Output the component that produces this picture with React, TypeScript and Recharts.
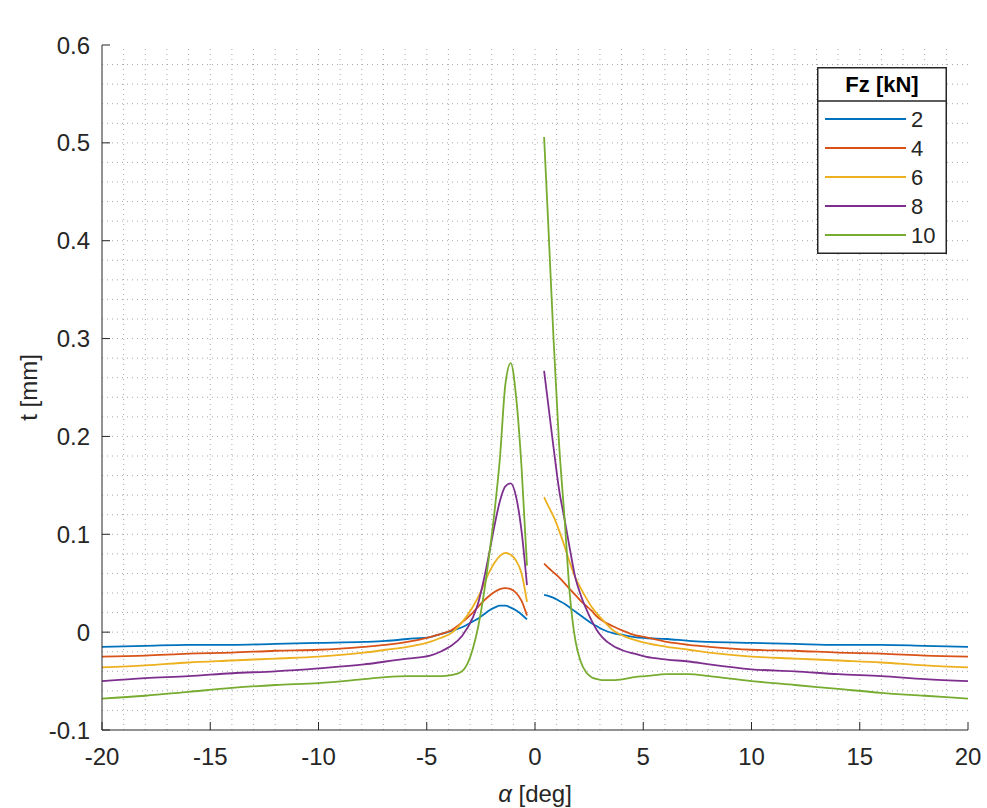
import React from "react";
import { LineChart, Line, XAxis, YAxis, ReferenceLine, Legend } from "recharts";

// sideslip angle samples [deg] (left branch / right branch)
const alphaLeft = [-20, -18, -16, -14, -12, -10, -7.9, -6.9, -5.9, -4.85, -4.37, -3.87, -3.37, -2.87, -2.62, -2.37, -2.12, -1.87, -1.62, -1.37, -1.12, -0.87, -0.62, -0.37];
const alphaRight = [0.42, 0.61, 0.86, 1.11, 1.36, 1.61, 1.86, 2.11, 2.36, 2.61, 2.86, 3.1, 3.6, 4.1, 4.6, 5.1, 6.1, 7.1, 8.05, 10, 12, 14, 16, 18, 20];

// lever arm t [mm] for each Fz
const fz2Left = [-0.015, -0.014, -0.013, -0.013, -0.012, -0.011, -0.010, -0.009, -0.007, -0.005, -0.002, 0.001, 0.005, 0.011, 0.014, 0.018, 0.022, 0.025, 0.027, 0.027, 0.025, 0.022, 0.018, 0.013];
const fz2Right = [0.038, 0.037, 0.035, 0.032, 0.029, 0.025, 0.021, 0.017, 0.013, 0.009, 0.006, 0.003, -0.001, -0.003, -0.005, -0.006, -0.007, -0.009, -0.010, -0.011, -0.012, -0.013, -0.013, -0.014, -0.015];
const fz4Left = [-0.025, -0.024, -0.022, -0.021, -0.019, -0.018, -0.015, -0.013, -0.010, -0.005, -0.002, 0.002, 0.010, 0.020, 0.026, 0.032, 0.037, 0.041, 0.044, 0.045, 0.044, 0.040, 0.032, 0.017];
const fz4Right = [0.070, 0.066, 0.061, 0.056, 0.050, 0.044, 0.038, 0.032, 0.027, 0.022, 0.016, 0.012, 0.006, 0.001, -0.003, -0.005, -0.010, -0.013, -0.015, -0.018, -0.019, -0.021, -0.022, -0.024, -0.025];
const fz6Left = [-0.036, -0.034, -0.031, -0.029, -0.027, -0.025, -0.021, -0.018, -0.015, -0.010, -0.006, -0.001, 0.010, 0.026, 0.036, 0.048, 0.061, 0.071, 0.078, 0.081, 0.079, 0.073, 0.060, 0.031];
const fz6Right = [0.138, 0.129, 0.118, 0.104, 0.088, 0.071, 0.056, 0.045, 0.035, 0.026, 0.019, 0.013, 0.002, -0.004, -0.008, -0.011, -0.015, -0.018, -0.021, -0.025, -0.027, -0.029, -0.031, -0.034, -0.036];
const fz8Left = [-0.050, -0.047, -0.045, -0.042, -0.040, -0.037, -0.033, -0.030, -0.027, -0.024, -0.020, -0.014, -0.004, 0.015, 0.030, 0.053, 0.080, 0.109, 0.134, 0.149, 0.152, 0.138, 0.103, 0.048];
const fz8Right = [0.267, 0.233, 0.188, 0.146, 0.116, 0.085, 0.056, 0.038, 0.024, 0.012, 0.002, -0.005, -0.014, -0.019, -0.022, -0.025, -0.028, -0.030, -0.033, -0.038, -0.040, -0.043, -0.045, -0.048, -0.050];
const fz10Left = [-0.068, -0.065, -0.061, -0.057, -0.054, -0.052, -0.048, -0.046, -0.045, -0.045, -0.045, -0.044, -0.040, -0.017, 0.006, 0.038, 0.078, 0.123, 0.178, 0.253, 0.275, 0.240, 0.168, 0.068];
const fz10Right = [0.506, 0.418, 0.298, 0.193, 0.118, 0.038, -0.008, -0.030, -0.041, -0.046, -0.048, -0.049, -0.049, -0.048, -0.046, -0.045, -0.043, -0.043, -0.045, -0.050, -0.054, -0.058, -0.062, -0.065, -0.068];

const xTicks = [-20, -15, -10, -5, 0, 5, 10, 15, 20];
const yTicks = [-0.1, 0, 0.1, 0.2, 0.3, 0.4, 0.5, 0.6];
const xMinor = [-19, -18, -17, -16, -15, -14, -13, -12, -11, -10, -9, -8, -7, -6, -5, -4, -3, -2, -1, 0, 1, 2, 3, 4, 5, 6, 7, 8, 9, 10, 11, 12, 13, 14, 15, 16, 17, 18, 19];
const yMinor = [-0.08, -0.06, -0.04, -0.02, 0, 0.02, 0.04, 0.06, 0.08, 0.1, 0.12, 0.14, 0.16, 0.18, 0.2, 0.22, 0.24, 0.26, 0.28, 0.3, 0.32, 0.34, 0.36, 0.38, 0.4, 0.42, 0.44, 0.46, 0.48, 0.5, 0.52, 0.54, 0.56, 0.58];

const seriesNames = ["2", "4", "6", "8", "10"];
const colors = ["#0072BD", "#D95319", "#EDB120", "#7E2F8E", "#77AC30"];

const leftSets = [fz2Left, fz4Left, fz6Left, fz8Left, fz10Left];
const rightSets = [fz2Right, fz4Right, fz6Right, fz8Right, fz10Right];

const keys = ["fz2", "fz4", "fz6", "fz8", "fz10"];

const rows: any[] = [];
alphaLeft.forEach((a, i) => {
  const r: any = { alpha: a };
  keys.forEach((k, s) => (r[k] = leftSets[s][i]));
  rows.push(r);
});
// gap between the two branches
const gap: any = { alpha: 0 };
keys.forEach((k) => (gap[k] = null));
rows.push(gap);
alphaRight.forEach((a, i) => {
  const r: any = { alpha: a };
  keys.forEach((k, s) => (r[k] = rightSets[s][i]));
  rows.push(r);
});

const FONT = "'Liberation Sans', Arial, Helvetica, sans-serif";
const INK = "#262626";
const GRID = "#a8a8a8";
const TICK = 8;

const BottomTick = (p: any) => (
  <g>
    <line x1={p.x} x2={p.x} y1={p.y} y2={p.y - TICK} stroke={INK} />
    <text x={p.x} y={p.y + 35} textAnchor="middle" fontSize={24} fill={INK} fontFamily={FONT}>
      {p.payload.value}
    </text>
  </g>
);
const TopTick = (p: any) => <line x1={p.x} x2={p.x} y1={p.y} y2={p.y + TICK} stroke={INK} />;
const LeftTick = (p: any) => (
  <g>
    <line x1={p.x} x2={p.x + TICK} y1={p.y} y2={p.y} stroke={INK} />
    <text x={p.x - 12} y={p.y + 8.5} textAnchor="end" fontSize={24} fill={INK} fontFamily={FONT}>
      {p.payload.value === 0 ? "0" : Number(p.payload.value).toFixed(1)}
    </text>
  </g>
);
const RightTick = (p: any) => <line x1={p.x} x2={p.x - TICK} y1={p.y} y2={p.y} stroke={INK} />;

// legend keeps the series order 2, 4, 6, 8, 10
const LegendBox = () => (
  <svg width={131} height={188} style={{ display: "block" }}>
    <rect x={0.75} y={0.75} width={128.5} height={185.5} fill="#fff" stroke={INK} strokeWidth={1.5} />
    <line x1={0.75} x2={129.25} y1={34} y2={34} stroke={INK} strokeWidth={1.5} />
    <text x={65} y={25} textAnchor="middle" fontSize={22} fontWeight="bold" fill="#000" fontFamily={FONT}>
      Fz [kN]
    </text>
    {seriesNames.map((n, i) => (
      <g key={n}>
        <line x1={8} x2={89} y1={52 + i * 29} y2={52 + i * 29} stroke={colors[i]} strokeWidth={1.8} />
        <text x={94} y={60 + i * 29} fontSize={22} fill={INK} fontFamily={FONT}>
          {n}
        </text>
      </g>
    ))}
  </svg>
);

export default function App() {
  return (
    <div style={{ position: "absolute", left: 0, top: 0, background: "#fff" }}>
      <LineChart width={987} height={808} data={rows} margin={{ top: 45, right: 19, bottom: 48, left: 42 }}>
        {xMinor.map((v) => (
          <ReferenceLine key={"gx" + v} x={v} stroke={GRID} strokeDasharray="1 4" />
        ))}
        {yMinor.map((v) => (
          <ReferenceLine key={"gy" + v} y={v} stroke={GRID} strokeDasharray="1 4" />
        ))}
        <XAxis
          dataKey="alpha"
          type="number"
          domain={[-20, 20]}
          ticks={xTicks}
          interval={0}
          allowDataOverflow
          height={30}
          tickSize={0}
          tickMargin={0}
          tick={BottomTick}
          axisLine={{ stroke: INK }}
          label={{
            content: (lp: any) => (
              <text x={lp.viewBox.x + lp.viewBox.width / 2} y={lp.viewBox.y + 72} textAnchor="middle" fontSize={24} fill={INK} fontFamily={FONT}>
                <tspan fontStyle="italic">α</tspan> [deg]
              </text>
            ),
          }}
        />
        <XAxis
          xAxisId="top"
          orientation="top"
          dataKey="alpha"
          type="number"
          domain={[-20, 20]}
          ticks={xTicks}
          interval={0}
          allowDataOverflow
          height={0}
          tickSize={0}
          tickMargin={0}
          tick={TopTick}
          axisLine={{ stroke: INK }}
          label={{
            content: (lp: any) => (
              <text x={lp.viewBox.x + lp.viewBox.width / 2} y={33} textAnchor="middle" fontSize={28} fontWeight="bold" fill="#000" fontFamily={FONT}>
                Lateral force lever arm vs Sideslip angle
              </text>
            ),
          }}
        />
        <YAxis
          type="number"
          domain={[-0.1, 0.6]}
          ticks={yTicks}
          interval={0}
          allowDataOverflow
          width={60}
          tickSize={0}
          tickMargin={0}
          tick={LeftTick}
          axisLine={{ stroke: INK }}
          label={{
            content: (lp: any) => {
              const cx = 28;
              const cy = lp.viewBox.y + lp.viewBox.height / 2;
              return (
                <text x={cx} y={cy} transform={`rotate(-90 ${cx} ${cy})`} textAnchor="middle" dominantBaseline="central" fontSize={24} fill={INK} fontFamily={FONT}>
                  t [mm]
                </text>
              );
            },
          }}
        />
        <YAxis
          yAxisId="right"
          orientation="right"
          type="number"
          domain={[-0.1, 0.6]}
          ticks={yTicks}
          interval={0}
          allowDataOverflow
          width={0}
          tickSize={0}
          tickMargin={0}
          tick={RightTick}
          axisLine={{ stroke: INK }}
        />
        {keys.map((k, i) => (
          <Line
            key={k}
            dataKey={k}
            name={seriesNames[i]}
            type="monotone"
            stroke={colors[i]}
            strokeWidth={1.8}
            dot={false}
            activeDot={false}
            isAnimationActive={false}
            connectNulls={false}
          />
        ))}
        <Legend
          layout="horizontal"
          verticalAlign="middle"
          align="center"
          content={LegendBox}
          wrapperStyle={{ left: 817, top: 67, width: 131, height: 188 }}
        />
      </LineChart>
    </div>
  );
}
